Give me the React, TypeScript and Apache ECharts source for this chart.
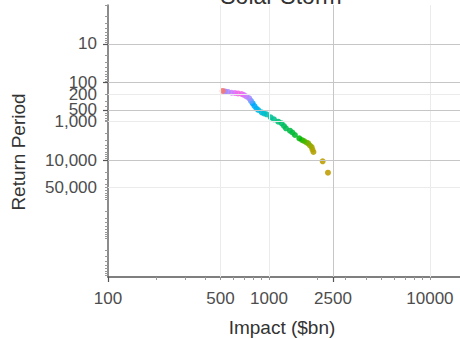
import React, { useEffect, useRef } from "react";
import * as echarts from "echarts";

// ---- data ----
const impact = [516, 533, 556, 587, 615, 642, 677, 699, 725, 754, 773, 792, 813, 836, 858, 901, 931, 967, 1025, 1074, 1142, 1199, 1240, 1275, 1350, 1399, 1450, 1543, 1603, 1650, 1710, 1754, 1798, 1842, 1863, 1890, 2156, 2326];
const returnPeriod = [163, 168, 173, 181, 184, 189, 195, 207, 226, 252, 295, 339, 397, 461, 504, 577, 620, 650, 776, 874, 1007, 1107, 1300, 1489, 1718, 1910, 2215, 2692, 2978, 3162, 3454, 3623, 4128, 4510, 5233, 6067, 10520, 20660];
const pointHues = [15, 270, 275, 290, 305, 315, 305, 290, 280, 270, 255, 245, 235, 225, 215, 205, 195, 185, 172, 165, 155, 150, 145, 142, 138, 135, 132, 128, 124, 120, 110, 100, 92, 85, 80, 78, 72, 70];

const xTickLabels = [100, 500, 1000, 2500, 10000];
const yTickLabels = [10, 100, 200, 500, 1000, 10000, 50000];

const xMajorGrid = [2500];
const xMinorGrid = [500, 1000, 10000];
const yMajorGrid = [10, 100, 500, 10000];
const yMinorGrid = [200, 1000, 50000];

const xMajorTicks = [100, 2500];
const yMajorTicks = [10, 100, 500, 10000];

const titleText = "Solar Storm";
const xTitle = "Impact ($bn)";
const yTitle = "Return Period";

const FONT = "'Liberation Sans', Arial, Helvetica, sans-serif";
const L = (v: number) => Math.log10(v);

function hcl(h: number, c = 100, l = 65): string {
  const hr = (h * Math.PI) / 180;
  const U = c * Math.cos(hr);
  const V = c * Math.sin(hr);
  const Y = Math.pow((l + 16) / 116, 3);
  const un = 0.19784;
  const vn = 0.46834;
  const up = U / (13 * l) + un;
  const vp = V / (13 * l) + vn;
  const X = (Y * 9 * up) / (4 * vp);
  const Z = (Y * (12 - 3 * up - 20 * vp)) / (4 * vp);
  const lin = [
    3.2406 * X - 1.5372 * Y - 0.4986 * Z,
    -0.9689 * X + 1.8758 * Y + 0.0415 * Z,
    0.0557 * X - 0.204 * Y + 1.057 * Z,
  ];
  const g = lin.map((cc) => {
    const v = Math.max(0, Math.min(1, cc));
    const s = v <= 0.0031308 ? 12.92 * v : 1.055 * Math.pow(v, 1 / 2.4) - 0.055;
    return Math.round(s * 255);
  });
  return `rgb(${g[0]},${g[1]},${g[2]})`;
}

const minorDigits = [1, 2, 3, 4, 5, 6, 7, 8, 9];
function minorTicks(fromExp: number, toExp: number, exclude: number[], maxV: number): number[] {
  const out: number[] = [];
  for (let k = fromExp; k <= toExp; k++) {
    for (const d of minorDigits) {
      const v = d * Math.pow(10, k);
      if (v <= maxV && !exclude.includes(v)) out.push(L(v));
    }
  }
  return out;
}

const X_MIN = 2;
const X_MAX = 4.187;
const Y_MIN = 0;
const Y_MAX = 7;

export default function App() {
  const ref = useRef<HTMLDivElement>(null);
  useEffect(() => {
    if (!ref.current) return;
    const chart = echarts.init(ref.current, undefined, { renderer: "svg" });
    const darkGrid = { color: "#c6c6c6", width: 1, type: "solid" as const };
    const lightGrid = { color: "#ebebeb", width: 1, type: "solid" as const };
    const axisCommon = {
      type: "value" as const,
      splitLine: { show: false },
      minorTick: { show: false },
    };
    const points = impact
      .map((v, i) => ({
        value: [L(v), L(returnPeriod[i])],
        itemStyle: { color: hcl(pointHues[i]), opacity: 0.88 },
      }))
      .reverse();
    chart.setOption({
      animation: false,
      backgroundColor: "#ffffff",
      grid: { left: 108, top: 5, right: 0, bottom: 62, containLabel: false },
      xAxis: [
        {
          ...axisCommon,
          min: X_MIN,
          max: X_MAX,
          position: "bottom",
          axisLine: { show: true, onZero: false, lineStyle: { color: "#555", width: 1.5 } },
          axisTick: {
            show: true,
            length: 5,
            customValues: xMajorTicks.map(L),
            lineStyle: { color: "#555", width: 1.2 },
          },
          axisLabel: {
            show: true,
            customValues: xTickLabels.map(L),
            formatter: (v: number) => String(Math.round(Math.pow(10, v))),
            fontSize: 17,
            fontFamily: FONT,
            color: "#4d4d4d",
            margin: 13,
          },
        },
        {
          ...axisCommon,
          min: X_MIN,
          max: X_MAX,
          position: "bottom",
          axisLine: { show: false, onZero: false },
          axisTick: {
            show: true,
            length: 3,
            customValues: minorTicks(2, 4, xMajorTicks, 15000),
            lineStyle: { color: "#999", width: 1 },
          },
          axisLabel: { show: false },
        },
      ],
      yAxis: [
        {
          ...axisCommon,
          min: Y_MIN,
          max: Y_MAX,
          inverse: true,
          position: "left",
          axisLine: { show: true, onZero: false, lineStyle: { color: "#666", width: 1.5 } },
          axisTick: {
            show: true,
            length: 5,
            customValues: yMajorTicks.map(L),
            lineStyle: { color: "#555", width: 1.2 },
          },
          axisLabel: {
            show: true,
            customValues: yTickLabels.map(L),
            formatter: (v: number) => Math.round(Math.pow(10, v)).toLocaleString("en-US"),
            fontSize: 17,
            fontFamily: FONT,
            color: "#4d4d4d",
            margin: 11,
          },
        },
        {
          ...axisCommon,
          min: Y_MIN,
          max: Y_MAX,
          inverse: true,
          position: "left",
          axisLine: { show: false, onZero: false },
          axisTick: {
            show: true,
            length: 3,
            customValues: minorTicks(0, 6, yMajorTicks, 1e7),
            lineStyle: { color: "#999", width: 1 },
          },
          axisLabel: { show: false },
        },
      ],
      series: [
        {
          type: "line",
          data: [],
          z: 1,
          silent: true,
          markLine: {
            silent: true,
            symbol: "none",
            label: { show: false },
            emphasis: { disabled: true },
            data: [
              ...yMinorGrid.map((v) => ({ yAxis: L(v), lineStyle: lightGrid })),
              ...xMinorGrid.map((v) => ({ xAxis: L(v), lineStyle: lightGrid })),
              ...yMajorGrid.map((v) => ({ yAxis: L(v), lineStyle: darkGrid })),
              ...xMajorGrid.map((v) => ({ xAxis: L(v), lineStyle: darkGrid })),
            ],
          },
        },
        {
          type: "scatter",
          z: 3,
          symbolSize: 6,
          emphasis: { disabled: true },
          data: points,
        },
      ],
      graphic: [
        {
          type: "text",
          x: 281,
          y: -4,
          style: {
            text: titleText,
            fontSize: 23,
            fontFamily: FONT,
            fill: "#333",
            align: "center",
            verticalAlign: "middle",
          },
        },
        {
          type: "text",
          x: 282,
          y: 327,
          style: {
            text: xTitle,
            fontSize: 19,
            fontFamily: FONT,
            fill: "#333",
            align: "center",
            verticalAlign: "middle",
          },
        },
        {
          type: "text",
          x: 18,
          y: 152,
          rotation: Math.PI / 2,
          style: {
            text: yTitle,
            fontSize: 19,
            fontFamily: FONT,
            fill: "#333",
            align: "center",
            verticalAlign: "middle",
          },
        },
      ],
    });
    return () => chart.dispose();
  }, []);
  return (
    <div
      ref={ref}
      style={{ position: "fixed", left: 0, top: 0, width: 460, height: 339, background: "#fff" }}
    />
  );
}
